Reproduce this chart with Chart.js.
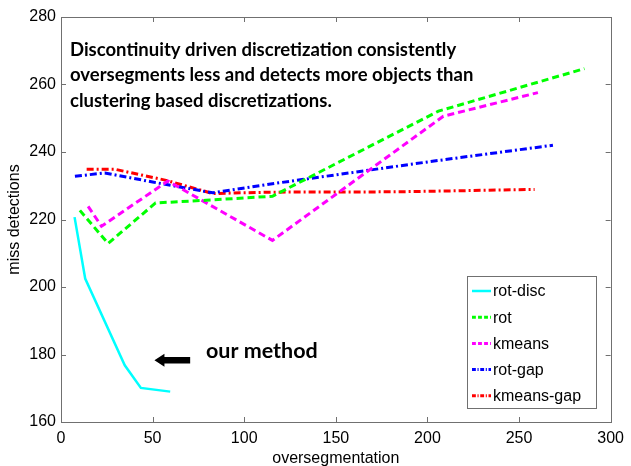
<!DOCTYPE html>
<html>
<head>
<meta charset="utf-8">
<script src="https://cdn.jsdelivr.net/npm/chart.js@4/dist/chart.umd.min.js"></script>
<style>
html,body{margin:0;padding:0;background:#fff;}
#c{display:block;}
</style>
</head>
<body>
<canvas id="c" width="631" height="466"></canvas>
<script>
// ---- data ----
const seriesNames = ['rot-disc', 'rot', 'kmeans', 'rot-gap', 'kmeans-gap'];

const rotDiscX = [7.4, 13.2, 34.8, 43.6, 59.6];
const rotDiscY = [220.7, 202.5, 176.8, 170.1, 169.0];

const rotX = [10.3, 25.7, 51.6, 79.2, 115.4, 206.0, 285.7];
const rotY = [222.7, 212.9, 224.9, 225.7, 226.9, 252.1, 264.7];

const kmeansX = [14.8, 22.1, 58.3, 115.4, 208.7, 260.3];
const kmeansY = [223.9, 218.0, 231.4, 213.8, 250.6, 257.6];

const rotGapX = [7.6, 23.9, 50.0, 82.8, 115.4, 206.0, 268.5];
const rotGapY = [232.8, 233.8, 231.1, 227.9, 230.6, 237.5, 242.0];

const kmeansGapX = [14.0, 29.3, 57.4, 82.8, 115.0, 182.0, 258.5];
const kmeansGapY = [234.9, 234.9, 231.6, 227.7, 228.1, 228.2, 228.9];

const xTicks = [0, 50, 100, 150, 200, 250, 300];
const yTicks = [160, 180, 200, 220, 240, 260, 280];

const noteLines = [
  'Discontinuity driven discretization consistently',
  'oversegments less and detects more objects than',
  'clustering based discretizations.'
];
const arrowLabel = 'our method';
const arrowTip = {x: 51, y: 178.3};
const arrowTail = {x: 70.5, y: 178.3};

// ---- styles ----
const colors = ['#00ffff', '#00ff00', '#ff00ff', '#0000ff', '#ff0000'];
const dashes = [[], [7, 4], [7, 4], [7, 3, 2, 3], [7, 3, 2, 3]];
const widths = [2.5, 3, 3, 3, 3];

function pts(xs, ys) { return xs.map((x, i) => ({x: x, y: ys[i]})); }
const allX = [rotDiscX, rotX, kmeansX, rotGapX, kmeansGapX];
const allY = [rotDiscY, rotY, kmeansY, rotGapY, kmeansGapY];

const datasets = seriesNames.map((n, i) => ({
  label: n,
  data: pts(allX[i], allY[i]),
  borderColor: colors[i],
  backgroundColor: colors[i],
  borderWidth: widths[i],
  borderDash: dashes[i],
  pointRadius: 0,
  fill: false,
  tension: 0
}));

const FONT = '"Liberation Sans", Arial, sans-serif';
const AXIS_COL = '#707070';

const decor = {
  id: 'decor',
  afterDraw(chart) {
    const ctx = chart.ctx;
    const a = chart.chartArea;
    const xs = chart.scales.x, ys = chart.scales.y;
    ctx.save();
    // box
    ctx.strokeStyle = AXIS_COL;
    ctx.lineWidth = 1;
    ctx.setLineDash([]);
    ctx.strokeRect(Math.round(a.left) + 0.5, Math.round(a.top) + 0.5,
                   Math.round(a.right - a.left), Math.round(a.bottom - a.top));
    // inward ticks
    const tl = 5;
    ctx.beginPath();
    xTicks.forEach(v => {
      const px = Math.round(xs.getPixelForValue(v)) + 0.5;
      ctx.moveTo(px, a.bottom); ctx.lineTo(px, a.bottom - tl);
      ctx.moveTo(px, a.top); ctx.lineTo(px, a.top + tl);
    });
    yTicks.forEach(v => {
      const py = Math.round(ys.getPixelForValue(v)) + 0.5;
      ctx.moveTo(a.left, py); ctx.lineTo(a.left + tl, py);
      ctx.moveTo(a.right, py); ctx.lineTo(a.right - tl, py);
    });
    ctx.stroke();

    // annotation text
    ctx.fillStyle = '#000';
    ctx.font = 'bold 18.5px Lato, "Open Sans", sans-serif';
    ctx.textBaseline = 'middle';
    ctx.textAlign = 'left';
    noteLines.forEach((t, i) => ctx.fillText(t, 70, 50 + i * 25.5));

    // arrow
    const tx = xs.getPixelForValue(arrowTip.x), ty = ys.getPixelForValue(arrowTip.y);
    const ex = xs.getPixelForValue(arrowTail.x);
    ctx.beginPath();
    ctx.moveTo(tx, ty);
    ctx.lineTo(tx + 10, ty - 6.5);
    ctx.lineTo(tx + 10, ty - 3.3);
    ctx.lineTo(ex, ty - 3.3);
    ctx.lineTo(ex, ty + 3.3);
    ctx.lineTo(tx + 10, ty + 3.3);
    ctx.lineTo(tx + 10, ty + 6.5);
    ctx.closePath();
    ctx.fill();
    ctx.font = 'bold 21.5px Lato, "Open Sans", sans-serif';
    ctx.fillText(arrowLabel, 206, 351);

    // legend
    const lx = 467.5, ly = 276.5, lw = 129, lh = 132;
    ctx.fillStyle = '#fff';
    ctx.fillRect(lx, ly, lw, lh);
    ctx.strokeStyle = AXIS_COL;
    ctx.lineWidth = 1;
    ctx.strokeRect(lx, ly, lw, lh);
    ctx.font = '16px ' + FONT;
    seriesNames.forEach((n, i) => {
      const y = 291 + i * 26.2;
      ctx.strokeStyle = colors[i];
      ctx.lineWidth = widths[i];
      ctx.setLineDash(dashes[i].length ? dashes[i].map(d => d * 0.55) : []);
      ctx.beginPath();
      ctx.moveTo(472, y); ctx.lineTo(491, y);
      ctx.stroke();
      ctx.fillStyle = '#000';
      ctx.fillText(n, 493, y + 1);
    });
    ctx.restore();
  }
};

new Chart(document.getElementById('c'), {
  type: 'line',
  data: { datasets: datasets },
  options: {
    responsive: false,
    animation: false,
    devicePixelRatio: 1,
    layout: { padding: { top: 17, right: 18, left: 0, bottom: 0 } },
    plugins: { legend: { display: false }, tooltip: { enabled: false } },
    scales: {
      x: {
        type: 'linear', min: 0, max: 300,
        afterBuildTicks: s => { s.ticks = xTicks.map(v => ({value: v})); },
        afterFit: s => { s.height = 44; },
        grid: { display: false, drawTicks: false },
        border: { display: false },
        ticks: { color: '#000', font: { family: FONT, size: 16 }, padding: 7, maxRotation: 0 },
        title: { display: true, text: 'oversegmentation', color: '#000',
                 font: { family: FONT, size: 16 }, padding: { top: 0, bottom: -2 } }
      },
      y: {
        type: 'linear', min: 160, max: 280,
        afterBuildTicks: s => { s.ticks = yTicks.map(v => ({value: v})); },
        afterFit: s => { s.width = 61; },
        grid: { display: false, drawTicks: false },
        border: { display: false },
        ticks: { color: '#000', font: { family: FONT, size: 16 }, padding: 5 },
        title: { display: true, text: 'miss detections', color: '#000',
                 font: { family: FONT, size: 16 }, padding: { top: 5, bottom: 0 } }
      }
    }
  },
  plugins: [decor]
});
</script>
</body>
</html>
